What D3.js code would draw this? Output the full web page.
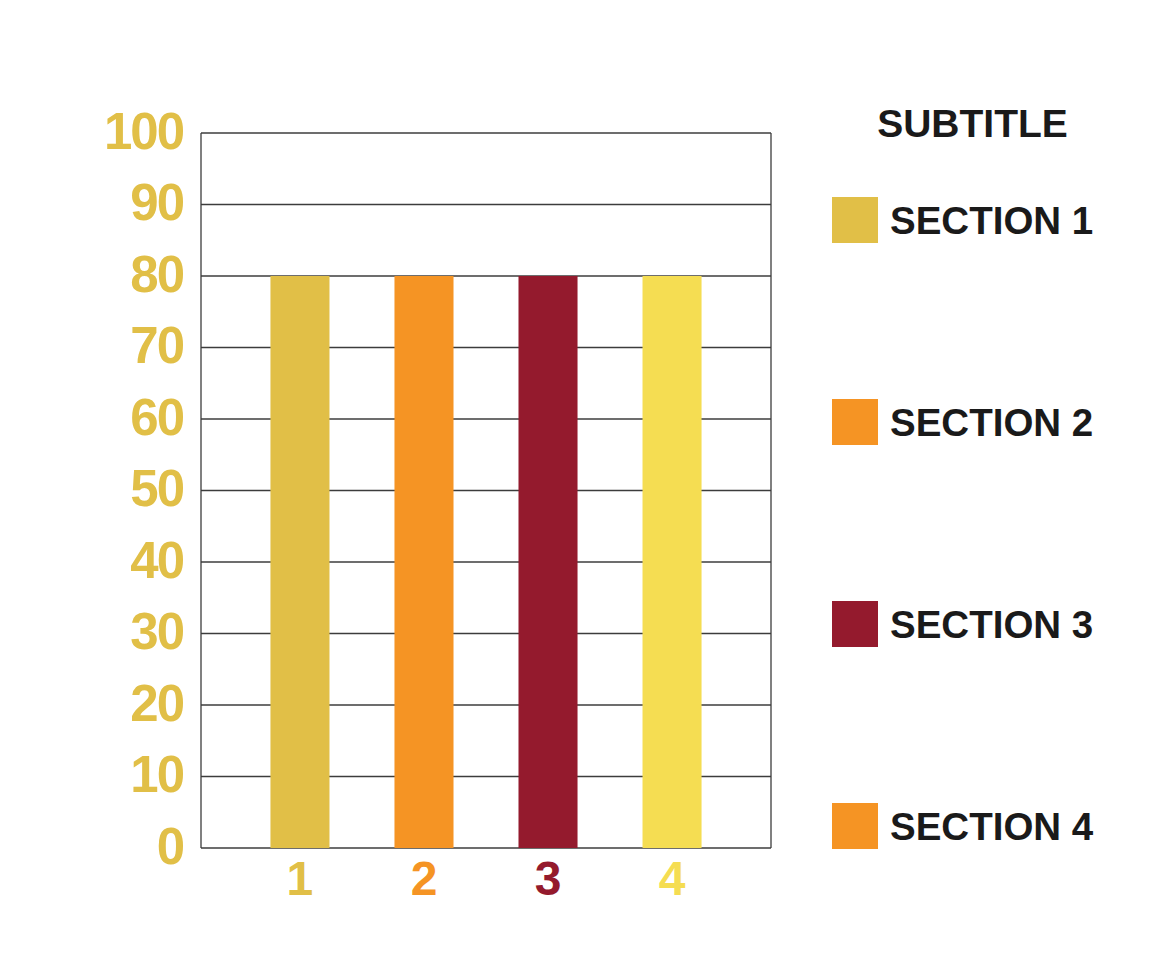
<!DOCTYPE html>
<html><head><meta charset="utf-8">
<script src="https://cdn.jsdelivr.net/npm/d3@7"></script>
<style>body{margin:0;background:#fff}svg{display:block}text{font-family:"Liberation Sans",Arial,Helvetica,sans-serif;font-weight:bold}</style>
</head><body>
<script>
const categories = ["1","2","3","4"];
const values = [80,80,80,80];
const barColors = ["#E1BF47","#F59424","#941A2D","#F5DD52"];
const yTicks = [0,10,20,30,40,50,60,70,80,90,100];
const legendTitle = "SUBTITLE";
const legendLabels = ["SECTION 1","SECTION 2","SECTION 3","SECTION 4"];
const legendColors = ["#E1BF47","#F59424","#941A2D","#F59424"];

const W=1163,H=980;
const svg=d3.select("body").append("svg").attr("width",W).attr("height",H);
const x0=201,x1=771,yTop=133,yBot=848;
const y=d3.scaleLinear().domain([0,100]).range([yBot,yTop]);
const x=d3.scaleBand().domain(categories).range([x0,x1]).paddingInner(0.524).paddingOuter(0.56);

// gridlines
svg.append("g").selectAll("line").data(yTicks).join("line")
  .attr("x1",x0).attr("x2",x1).attr("y1",d=>y(d)).attr("y2",d=>y(d))
  .attr("stroke","#3c3c3c").attr("stroke-width",1.3);
// border verticals
svg.append("line").attr("x1",x0).attr("x2",x0).attr("y1",yTop).attr("y2",yBot).attr("stroke","#3c3c3c").attr("stroke-width",1.3);
svg.append("line").attr("x1",x1).attr("x2",x1).attr("y1",yTop).attr("y2",yBot).attr("stroke","#3c3c3c").attr("stroke-width",1.3);

// bars
svg.append("g").selectAll("rect").data(values).join("rect")
  .attr("x",(d,i)=>x(categories[i])).attr("width",x.bandwidth())
  .attr("y",d=>y(d)).attr("height",d=>yBot-y(d)).attr("fill",(d,i)=>barColors[i]);

// y labels
const yAxis=d3.axisLeft(y).tickValues(yTicks).tickSize(0).tickPadding(0);
const ya=svg.append("g").attr("transform",`translate(183,-3)`).call(yAxis);
ya.select(".domain").remove();
ya.selectAll("text").attr("fill","#E1BF47").attr("font-size",51).attr("letter-spacing",-2)
  .attr("font-family","Liberation Sans, Arial, sans-serif").attr("font-weight","bold")
  .attr("dy","0.36em").attr("x",0);

// x labels
const xAxis=d3.axisBottom(x).tickSize(0).tickPadding(0);
const xa=svg.append("g").attr("transform",`translate(0,895)`).call(xAxis);
xa.select(".domain").remove();
xa.selectAll("text").attr("fill",(d,i)=>barColors[i]).attr("font-size",48)
  .attr("font-family","Liberation Sans, Arial, sans-serif").attr("font-weight","bold")
  .attr("dy",0).attr("y",0);

// legend
svg.append("text").attr("x",972.5).attr("y",137).attr("text-anchor","middle")
  .attr("font-size",39).attr("fill","#1a1a1a").text(legendTitle);
const lg=svg.append("g").selectAll("g").data(legendLabels).join("g")
  .attr("transform",(d,i)=>`translate(832,${197+i*202})`);
lg.append("rect").attr("width",46).attr("height",46).attr("fill",(d,i)=>legendColors[i]);
lg.append("text").attr("x",58).attr("y",36.5).attr("font-size",38.5)
  .attr("fill","#1a1a1a").text(d=>d);
</script>
</body></html>
